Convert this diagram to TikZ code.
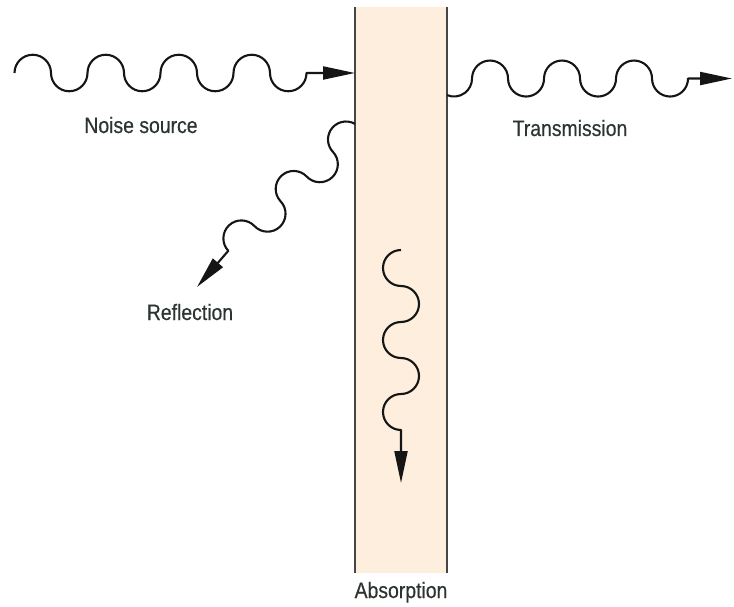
\documentclass[tikz,border=0pt]{standalone}
\usepackage{fontspec}
\usepackage{tikz}
\usetikzlibrary{arrows.meta,calc,positioning}
\newfontfamily\labelfont{Liberation Sans}[FakeStretch=0.87,FakeBold=0.35]
\definecolor{SlabPeach}{HTML}{FDEEDD}
\definecolor{SlabEdge}{HTML}{454545}
\definecolor{LabelInk}{HTML}{2C3430}
\definecolor{WaveInk}{HTML}{151515}

\begin{document}
\begin{tikzpicture}[x=1pt,y=1pt,
    every node/.style={font=\labelfont\fontsize{22.3}{26}\selectfont,text=LabelInk,inner sep=0pt},
    wave/.style={WaveInk,line width=2.1pt,line join=round,-{Triangle[length=32pt,width=13pt]}}]
    \useasboundingbox (0,0) rectangle (734,-607);

    \node[fill=SlabPeach,minimum width=92pt,minimum height=566pt,outer sep=0pt] (slab) at (401,-290) {};
    \draw[SlabEdge,line width=2.3pt] (slab.north west) -- (slab.south west);
    \draw[SlabEdge,line width=2.3pt] (slab.north east) -- (slab.south east);

    \node[anchor=base] (noise) at (141,-133) {Noise source};
    \node[anchor=base] (transmission) at (570,-136) {Transmission};
    \node[anchor=base] (reflection) at (190,-320) {Reflection};
    \node[anchor=base] (absorption) at (401,-598) {Absorption};

    \coordinate (noise-start) at (14.5,-73);
    \coordinate (trans-start) at (447,-95.1);
    \coordinate (trans-tip) at (732,-78.5);
    \coordinate (refl-start) at (355,-123.9);
    \coordinate (refl-tip) at (197,-287);
    \coordinate (abs-start) at (401,-250);
    \coordinate (abs-tip) at (401,-483);

    \draw[wave] (noise-start)
      \foreach \i in {1,...,4} {arc[start angle=180,end angle=0,radius=18.25] arc[start angle=180,end angle=360,radius=18.25]}
      -- (slab.west |- noise-start);

    \draw[wave] (trans-start) arc[start angle=247,end angle=360,radius=18]
      \foreach \i in {1,2,3} {arc[start angle=180,end angle=0,radius=18] arc[start angle=180,end angle=360,radius=18]}
      -- (trans-tip);

    \draw[wave] (refl-start) arc[start angle=60,end angle=223.4,radius=18]
      \foreach \i in {1,2} {arc[start angle=43.4,end angle=-136.6,radius=18] arc[start angle=43.4,end angle=223.4,radius=18]}
      -- (refl-tip);

    \draw[wave] (abs-start)
      \foreach \i in {1,2} {arc[start angle=90,end angle=270,radius=18] arc[start angle=90,end angle=-90,radius=18]}
      arc[start angle=90,end angle=270,radius=18] -- (abs-tip);
  \end{tikzpicture}
\end{document}
